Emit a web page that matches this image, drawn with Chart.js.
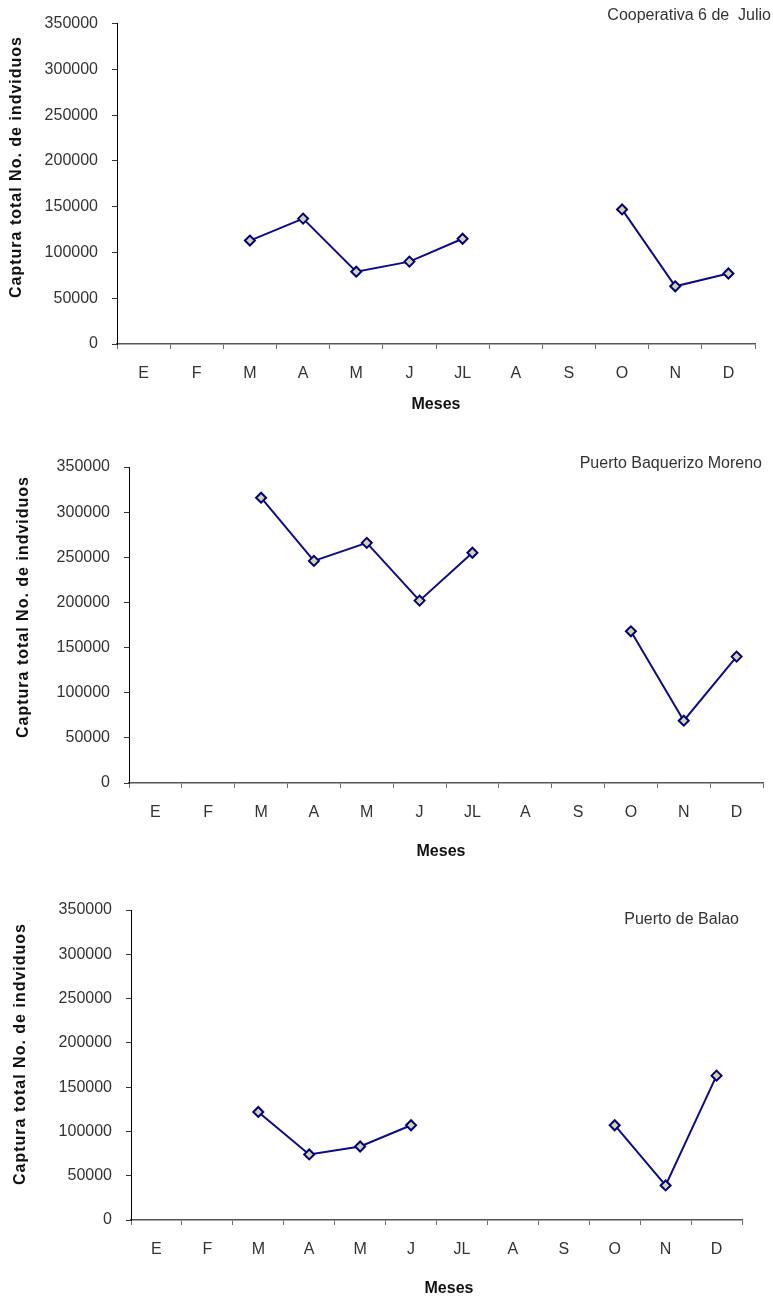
<!DOCTYPE html>
<html>
<head>
<meta charset="utf-8">
<script src="https://cdn.jsdelivr.net/npm/chart.js@4/dist/chart.umd.min.js"></script>
<style>
  html, body { margin: 0; padding: 0; background: #fff; }
  #wrap { position: relative; width: 773px; height: 1298px; overflow: hidden; }
  #wrap canvas { position: absolute; left: 0; }
</style>
</head>
<body>
<div id="wrap">
  <canvas id="c1"></canvas>
  <canvas id="c2"></canvas>
  <canvas id="c3"></canvas>
</div>
<script>
// Meses del año (etiquetas del eje X)
const meses = ['E', 'F', 'M', 'A', 'M', 'J', 'JL', 'A', 'S', 'O', 'N', 'D'];

// Escala del eje Y
const yMin = 0;
const yMax = 350000;
const yPaso = 50000;

// Captura total (No. de individuos) por mes; null = sin registro
const cooperativa6Julio = [null, null, 113000, 137000, 79000, 90000, 115000, null, null, 147000, 63000, 77000];
const puertoBaquerizo   = [null, null, 316000, 246000, 266000, 202000, 255000, null, null, 168000, 69000, 140000];
const puertoBalao       = [null, null, 122000, 74000, 83000, 107000, null, null, null, 107000, 39000, 163000];

// Textos
const titulos = ['Cooperativa 6 de  Julio', 'Puerto Baquerizo Moreno', 'Puerto de Balao'];
const tituloY = 'Captura total No. de indviduos';
const tituloX = 'Meses';

const FONT = '"Liberation Sans", Arial, sans-serif';

// Títulos del gráfico y de los ejes
const textos = {
  id: 'textos',
  afterDraw(chart, args, o) {
    const ctx = chart.ctx;
    ctx.save();
    ctx.textBaseline = 'middle';

    ctx.font = '16px ' + FONT;
    ctx.fillStyle = '#333';
    ctx.textAlign = 'right';
    ctx.fillText(o.titulo, o.tituloX, o.tituloY);

    ctx.font = 'bold 16px ' + FONT;
    ctx.fillStyle = '#111';
    ctx.textAlign = 'center';
    ctx.fillText(tituloX, o.mesesX, o.mesesY);

    ctx.translate(o.ejeYX, o.ejeYY);
    ctx.rotate(-Math.PI / 2);
    ctx.letterSpacing = '1px';
    ctx.fillText(tituloY, 0, 0);
    ctx.restore();
  }
};

function grafico(id, datos, titulo, caja) {
  const cv = document.getElementById(id);
  cv.width = 773;
  cv.height = caja.alto;
  cv.style.top = caja.arriba + 'px';
  const t = caja.arriba;

  new Chart(cv, {
    type: 'line',
    data: {
      labels: meses,
      datasets: [{
        data: datos,
        borderColor: '#0c0c86',
        borderWidth: 2,
        pointStyle: 'rectRot',
        pointRadius: 5,
        pointBorderWidth: 2,
        pointBorderColor: '#00007a',
        pointBackgroundColor: '#d8d4aa',
        spanGaps: false,
        tension: 0
      }]
    },
    options: {
      responsive: false,
      animation: false,
      events: [],
      layout: { padding: { left: 0, right: 773 - caja.der, top: caja.sup - t, bottom: 0 } },
      plugins: {
        legend: { display: false },
        tooltip: { enabled: false },
        textos: {
          titulo: titulo,
          tituloX: caja.titX, tituloY: caja.titY - t,
          mesesX: caja.mesX, mesesY: caja.mesY - t,
          ejeYX: caja.ejeX, ejeYY: caja.ejeY - t
        }
      },
      scales: {
        x: {
          offset: true,
          grid: { offset: true, drawOnChartArea: false, drawTicks: true, tickLength: 5, tickColor: '#707070' },
          border: { color: '#555', width: 1.5 },
          ticks: { color: '#333', font: { family: FONT, size: 16 }, padding: 15, maxRotation: 0, autoSkip: false },
          afterFit(s) { s.height = t + caja.alto - caja.inf; }
        },
        y: {
          min: yMin, max: yMax,
          grid: { drawOnChartArea: false, drawTicks: true, tickLength: 5, tickColor: '#333' },
          border: { color: '#000', width: 1 },
          ticks: {
            stepSize: yPaso, color: '#333', padding: 14,
            font: { family: FONT, size: 16 },
            callback: v => String(v)
          },
          afterFit(s) { s.width = caja.izq; }
        }
      }
    },
    plugins: [textos]
  });
}

grafico('c1', cooperativa6Julio, titulos[0], {
  arriba: 0, alto: 425, izq: 117, der: 755, sup: 23, inf: 344,
  titX: 771, titY: 16, mesX: 436, mesY: 405, ejeX: 17, ejeY: 167
});
grafico('c2', puertoBaquerizo, titulos[1], {
  arriba: 440, alto: 430, izq: 129, der: 763, sup: 467, inf: 783,
  titX: 762, titY: 464, mesX: 441, mesY: 852, ejeX: 23.5, ejeY: 607
});
grafico('c3', puertoBalao, titulos[2], {
  arriba: 885, alto: 413, izq: 131, der: 742, sup: 910, inf: 1220,
  titX: 739, titY: 920, mesX: 449, mesY: 1289, ejeX: 20.5, ejeY: 1054
});
</script>
</body>
</html>
